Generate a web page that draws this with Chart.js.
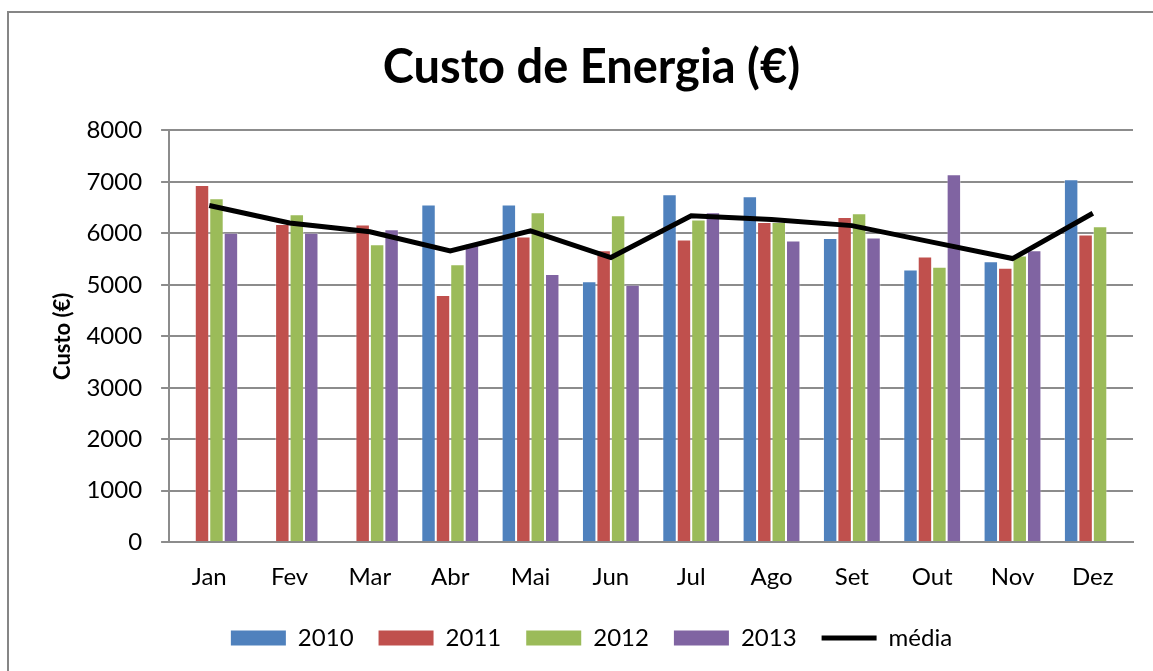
<!DOCTYPE html>
<html>
<head>
<meta charset="utf-8">
<script src="https://cdn.jsdelivr.net/npm/chart.js@4"></script>
<style>
  html, body { margin: 0; padding: 0; background: #fff; }
  #wrap { position: relative; width: 1153px; height: 671px; overflow: hidden; }
</style>
</head>
<body>
<div id="wrap"><canvas id="energyChart" width="1153" height="671"></canvas></div>
<script>
// Custo de Energia (€)
const months = ['Jan', 'Fev', 'Mar', 'Abr', 'Mai', 'Jun', 'Jul', 'Ago', 'Set', 'Out', 'Nov', 'Dez'];
const custo2010 = [null, null, null, 6560, 6560, 5070, 6760, 6720, 5910, 5300, 5460, 7050];
const custo2011 = [6940, 6180, 6170, 4800, 5940, 5670, 5880, 6220, 6320, 5550, 5330, 5980];
const custo2012 = [6680, 6370, 5790, 5400, 6410, 6350, 6270, 6220, 6390, 5350, 5570, 6140];
const custo2013 = [6010, 6010, 6080, 5800, 5210, 5000, 6410, 5860, 5920, 7150, 5670, null];
const media     = [6540, 6200, 6030, 5660, 6050, 5530, 6340, 6270, 6150, 5830, 5510, 6390];
const yTicks = [0, 1000, 2000, 3000, 4000, 5000, 6000, 7000, 8000];

const FONT = 'Lato, "Open Sans", sans-serif';
const GRID = '#8c8c8c';

// outer frame of the chart object (Excel style)
const framePlugin = {
  id: 'frame',
  beforeDraw(chart) {
    const ctx = chart.ctx;
    ctx.save();
    ctx.fillStyle = '#fff';
    ctx.fillRect(0, 0, chart.width, chart.height);
    ctx.strokeStyle = '#868686';
    ctx.lineWidth = 2;
    ctx.strokeRect(8, 12, chart.width + 20, chart.height + 20);
    ctx.restore();
  }
};

function barSet(label, data, color) {
  return { type: 'bar', label, data, backgroundColor: color, borderColor: 'rgba(255,255,255,0.35)', borderWidth: 1, order: 1 };
}

new Chart(document.getElementById('energyChart'), {
  data: {
    labels: months,
    datasets: [
      barSet('2010', custo2010, '#4F81BD'),
      barSet('2011', custo2011, '#C0504D'),
      barSet('2012', custo2012, '#9BBB59'),
      barSet('2013', custo2013, '#8064A2'),
      { type: 'line', label: 'média', data: media, borderColor: '#000', backgroundColor: '#000', borderWidth: 5, pointRadius: 0, tension: 0, order: 0 }
    ]
  },
  options: {
    responsive: false,
    animation: false,
    layout: { padding: { left: 50, right: 20, top: 0, bottom: 11 } },
    datasets: { bar: { categoryPercentage: 0.72, barPercentage: 1 } },
    plugins: {
      title: {
        display: true,
        text: 'Custo de Energia (€)',
        color: '#000',
        font: { family: FONT, size: 47, weight: 'bold' },
        padding: { top: 40, bottom: 34 }
      },
      legend: {
        position: 'bottom',
        labels: {
          color: '#000',
          font: { family: FONT, size: 24 },
          usePointStyle: true,
          pointStyleWidth: 55,
          boxHeight: 15,
          padding: 25,
          generateLabels(chart) {
            const items = Chart.defaults.plugins.legend.labels.generateLabels(chart);
            items.forEach(it => {
              it.pointStyle = it.text === 'média' ? 'line' : 'rect';
              if (it.text !== 'média') it.lineWidth = 0;
            });
            return items;
          },
          sort: (a, b) => a.datasetIndex - b.datasetIndex
        }
      },
      tooltip: { enabled: false }
    },
    scales: {
      x: {
        grid: { display: false },
        border: { display: true, color: GRID, width: 2 },
        ticks: { color: '#000', font: { family: FONT, size: 24 }, padding: 13 },
        afterFit(scale) { scale.height -= 4; }
      },
      y: {
        min: 0,
        max: 8000,
        afterBuildTicks(scale) { scale.ticks = yTicks.map(v => ({ value: v })); },
        grid: { color: GRID, lineWidth: 2, tickLength: 8 },
        border: { display: true, color: GRID, width: 2 },
        ticks: { color: '#000', font: { family: FONT, size: 24 }, padding: 19, callback: v => String(v) },
        title: { display: true, text: 'Custo (€)', color: '#000', font: { family: FONT, size: 22, weight: 'bold' }, padding: { top: 0, bottom: -9 } }
      }
    }
  },
  plugins: [framePlugin]
});
</script>
</body>
</html>
